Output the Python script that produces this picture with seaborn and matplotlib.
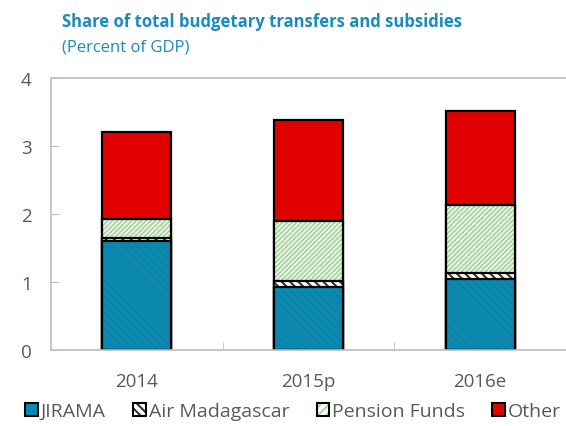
import numpy as np
import pandas as pd
import seaborn as sns
import matplotlib.pyplot as plt
from matplotlib.patches import Patch

years = ['2014', '2015p', '2016e']
jirama = [1.60, 0.93, 1.04]
air_madagascar = [0.05, 0.08, 0.09]
pension_funds = [0.28, 0.89, 1.00]
other = [1.28, 1.48, 1.38]

sns.set_style('white')
plt.rcParams['font.family'] = ['Open Sans', 'DejaVu Sans']
plt.rcParams['hatch.linewidth'] = 1.5

blue = '#0A8AB2'
red = '#E00000'
green = '#A9D8A0'
gray = '#595959'
spine = '#BFBFBF'

df = pd.DataFrame({'year': years, 'JIRAMA': jirama, 'Air Madagascar': air_madagascar,
                   'Pension Funds': pension_funds, 'Other': other})
cols = ['JIRAMA', 'Air Madagascar', 'Pension Funds', 'Other']
cum = df[cols].cumsum(axis=1)

# face, hatch, hatch colour for each series
styles = {
    'JIRAMA': (blue, '\\\\\\\\', '#0F82A6'),
    'Air Madagascar': ('white', '\\\\\\\\', '#333333'),
    'Pension Funds': ('white', '///////', green),
    'Other': (red, None, red),
}

fig = plt.figure(figsize=(5.66, 4.27), dpi=100)
ax = fig.add_axes([51 / 566, 1 - 351 / 427, 1 - 51 / 566, 272 / 427])

# draw cumulative totals from top down so lower segments cover upper ones
for c in cols[::-1]:
    face, hatch, hcol = styles[c]
    sns.barplot(x=df['year'], y=cum[c], color=face, saturation=1, width=0.4,
                errorbar=None, edgecolor=hcol, linewidth=0, hatch=hatch, ax=ax)
    sns.barplot(x=df['year'], y=cum[c], color='black', fill=False, width=0.4,
                errorbar=None, linewidth=1.6, ax=ax)

ax.set_xlim(-0.5, 2.5)
ax.set_ylim(0, 4)
ax.set_yticks([0, 1, 2, 3, 4])
ax.set_xlabel('')
ax.set_ylabel('')

for s in ['left', 'top', 'bottom']:
    ax.spines[s].set_color(spine)
    ax.spines[s].set_linewidth(1.2)
ax.spines['right'].set_visible(False)

ax.tick_params(axis='y', direction='in', length=6, color=spine, labelsize=13.5,
               labelcolor=gray, pad=14, left=True)
ax.tick_params(axis='x', length=0, labelsize=13.5, labelcolor=gray, pad=16)
ax.set_xticks([0.5, 1.5], minor=True)
ax.tick_params(axis='x', which='minor', direction='in', length=6, color=spine,
               bottom=True)

fig.text(62 / 566, 1 - 22 / 427, 'Share of total budgetary transfers and subsidies',
         fontsize=12, fontweight='bold', color='#1B8CB9', va='center')
fig.text(62 / 566, 1 - 48 / 427, '(Percent of GDP)', fontsize=12,
         color='#1B8CB9', va='center')

handles = [
    Patch(facecolor=blue, edgecolor='black', linewidth=1.5),
    (Patch(facecolor='white', edgecolor='#333333', hatch='\\\\\\\\', linewidth=0),
     Patch(facecolor='none', edgecolor='black', linewidth=1.5)),
    (Patch(facecolor='white', edgecolor=green, hatch='////', linewidth=0),
     Patch(facecolor='none', edgecolor='black', linewidth=1.5)),
    Patch(facecolor=red, edgecolor='black', linewidth=1.5),
]
leg = fig.legend(handles, cols, loc='center', bbox_to_anchor=(0.518, 1 - 412 / 427),
                 ncol=4, frameon=False, fontsize=14, handlelength=0.65,
                 handleheight=0.65, handletextpad=0.15, columnspacing=1.4,
                 borderpad=0)
for t in leg.get_texts():
    t.set_color(gray)

fig.savefig('out.png', dpi=100)
